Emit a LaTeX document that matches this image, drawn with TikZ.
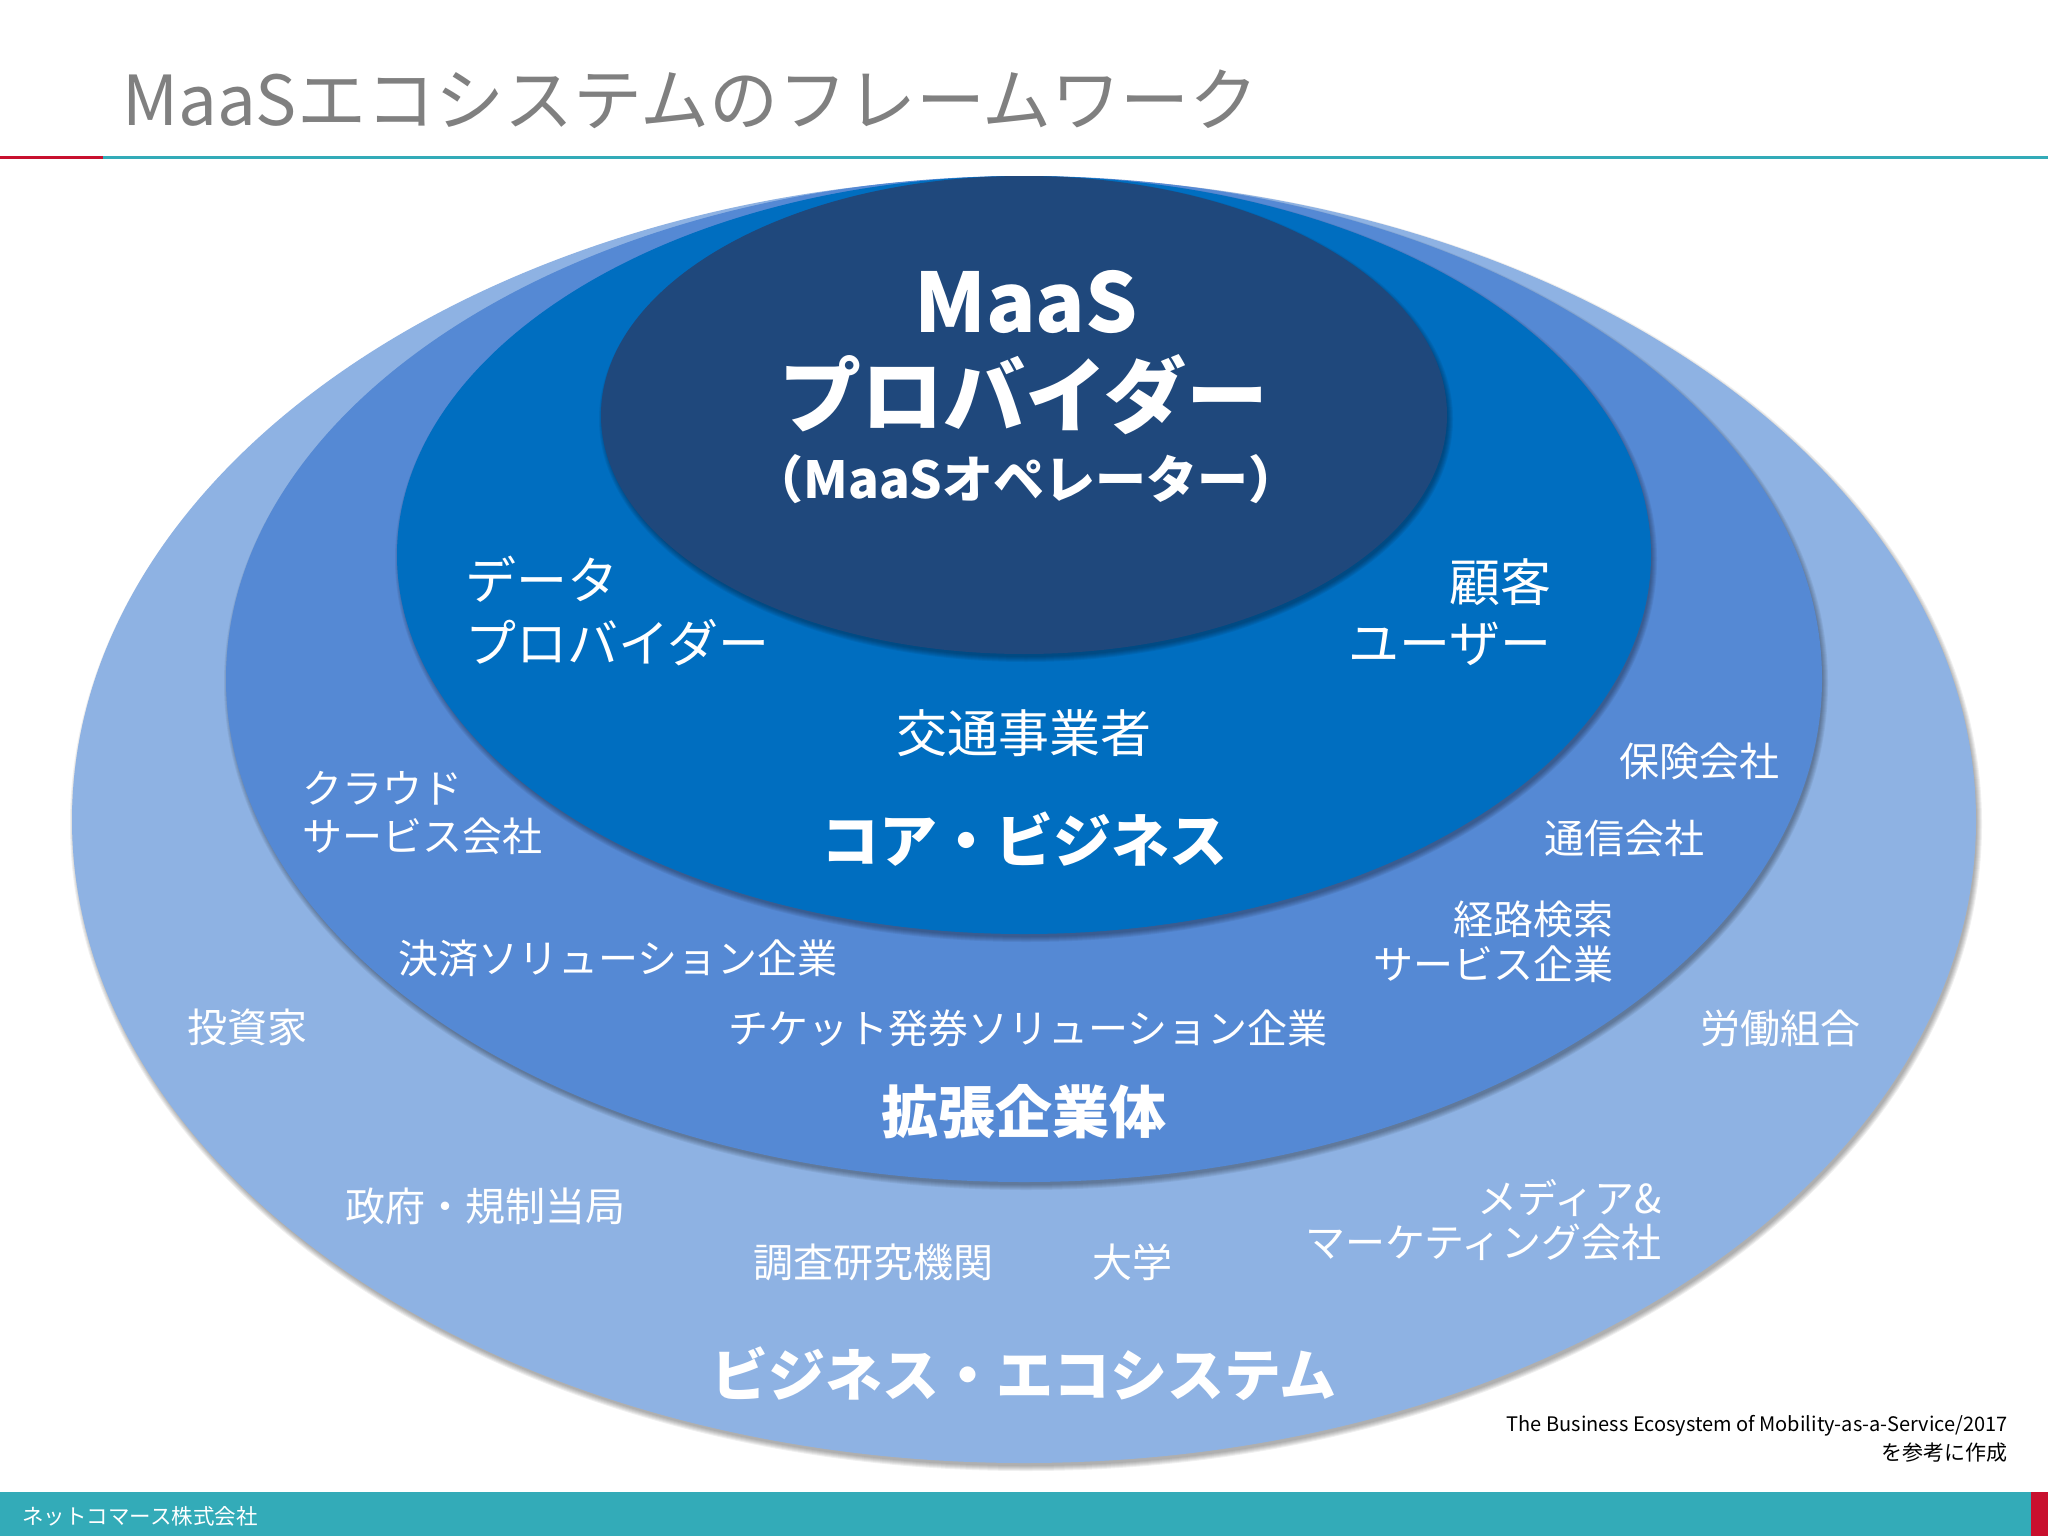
\documentclass[tikz,border=0pt]{standalone}
\usepackage{fontspec}
\setmainfont{Noto Sans CJK JP}
\usetikzlibrary{shapes.geometric}
\definecolor{ringa}{HTML}{8EB2E3}
\definecolor{ringb}{HTML}{5589D4}
\definecolor{ringc}{HTML}{006EC0}
\definecolor{ringd}{HTML}{1F487C}
\definecolor{teal}{HTML}{33ABB8}
\definecolor{titlegray}{HTML}{808080}
\definecolor{alert}{HTML}{C8102E}
\newcommand{\fs}[1]{\fontsize{#1}{#1}\selectfont}
\tikzset{
  lab/.style={text=white,inner sep=0pt,align=left},
  labr/.style={text=white,inner sep=0pt,align=right},
  labc/.style={text=white,inner sep=0pt,align=center},
  big/.style={text=white,inner sep=0pt,align=center,font=\bfseries},
}
% centre x, centre y, rx, ry, colour
\newcommand{\ring}[5]{%
  \foreach \k in {1,...,6}{%
    \fill[black,opacity=0.06] ({#1+2},{#2+4}) ellipse [x radius={#3+5-\k},y radius={#4+5-\k}];
  }
  \fill[#5] (#1,#2) ellipse [x radius=#3,y radius=#4];
}
\begin{document}
\begin{tikzpicture}[x=1pt,y=-1pt]
\useasboundingbox (0,0) rectangle (2048,1536);
\fill[white] (0,0) rectangle (2048,1536);
% header
\node[anchor=west,inner sep=0pt,text=titlegray] (title) at (122,99) {\fs{69}MaaSエコシステムのフレームワーク};
\fill[teal] (103,156.5) rectangle (2048,159.5);
\fill[alert] (0,156.5) rectangle (103,159.5);
% rings
\ring{1024}{820}{952}{643}{ringa}
\ring{1024}{679}{798}{503}{ringb}
\ring{1024}{555}{627}{379}{ringc}
\ring{1024}{415}{423}{239}{ringd}
% core
\node[big] (maas) at (1026,302) {\fs{82}MaaS};
\node[big] (prov) at (1024,395) {\fs{82}プロバイダー};
\node[big] (oper) at (1026,479) {\fs{51}（MaaSオペレーター）};
\node[lab,anchor=west] (data) at (465,611) {\fs{51}データ\\[15pt]\fs{51}プロバイダー};
\node[labr,anchor=east] (cust) at (1552,612) {\fs{51}顧客\\[15pt]\fs{51}ユーザー};
\node[labc] (trans) at (1024,733) {\fs{51}交通事業者};
\node[big] (core) at (1024,839) {\fs{58}コア・ビジネス};
% extended
\node[lab,anchor=west] (cloud) at (302,813) {\fs{40}クラウド\\[11pt]\fs{40}サービス会社};
\node[labc] (pay) at (618,958) {\fs{40}決済ソリューション企業};
\node[labc] (tick) at (1028,1028) {\fs{40}チケット発券ソリューション企業};
\node[big] (ext) at (1024,1112) {\fs{57}拡張企業体};
\node[labc] (ins) at (1699,761) {\fs{40}保険会社};
\node[labc] (tel) at (1624,838) {\fs{40}通信会社};
\node[labr,anchor=east] (route) at (1614,942) {\fs{40}経路検索\\[7pt]\fs{40}サービス企業};
% ecosystem
\node[labc] (inv) at (247,1027) {\fs{40}投資家};
\node[labc] (gov) at (485,1206) {\fs{40}政府・規制当局};
\node[labc] (res) at (873,1262) {\fs{40}調査研究機関};
\node[labc] (uni) at (1132,1262) {\fs{40}大学};
\node[labc] (lab) at (1780,1028) {\fs{40}労働組合};
\node[labr,anchor=east] (media) at (1662,1220) {\fs{40}メディア\&\\[7pt]\fs{40}マーケティング会社};
\node[big] (eco) at (1024,1374) {\fs{57}ビジネス・エコシステム};
% source
\node[anchor=east,inner sep=0pt,text=black] (src1) at (2008,1426) {\fs{20}The Business Ecosystem of Mobility-as-a-Service/2017};
\node[anchor=east,inner sep=0pt,text=black] (src2) at (2008,1453) {\fs{21}を参考に作成};
% footer
\fill[teal] (0,1492) rectangle (2048,1536);
\fill[alert] (2031,1492) rectangle (2048,1536);
\node[anchor=west,inner sep=0pt,text=white] (corp) at (22,1516) {\fs{21.5}ネットコマース株式会社};
\end{tikzpicture}
\end{document}
